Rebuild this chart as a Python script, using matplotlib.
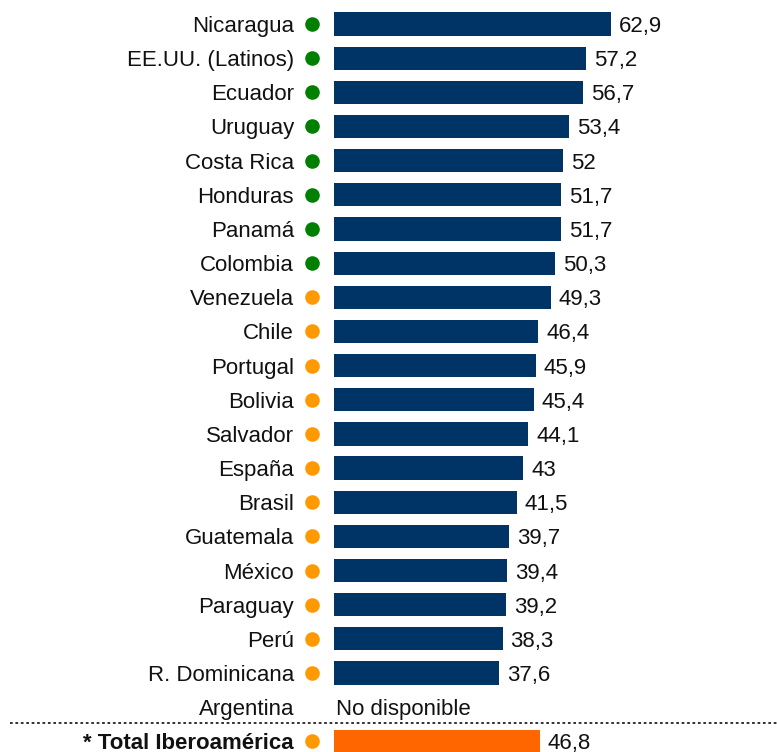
import matplotlib
matplotlib.use("Agg")
import matplotlib.pyplot as plt
from matplotlib.lines import Line2D

countries = ["Nicaragua", "EE.UU. (Latinos)", "Ecuador", "Uruguay", "Costa Rica",
             "Honduras", "Panamá", "Colombia", "Venezuela", "Chile", "Portugal",
             "Bolivia", "Salvador", "España", "Brasil", "Guatemala", "México",
             "Paraguay", "Perú", "R. Dominicana"]
values = [62.9, 57.2, 56.7, 53.4, 52, 51.7, 51.7, 50.3, 49.3, 46.4, 45.9,
          45.4, 44.1, 43, 41.5, 39.7, 39.4, 39.2, 38.3, 37.6]
dot_group = ["g"] * 8 + ["o"] * 12
missing_label = "Argentina"
missing_text = "No disponible"
total_label = "* Total Iberoamérica"
total_value = 46.8

NAVY = "#003366"
ORANGE_BAR = "#FF6600"
GREEN_DOT = "#008000"
ORANGE_DOT = "#FF9900"

plt.rcParams["font.family"] = ["Liberation Sans", "DejaVu Sans"]
FS = 16
TXT = "#111111"
BASE = -8  # pixel offset from row centre to baseline

W, H = 777, 752
fig = plt.figure(figsize=(W / 100, H / 100), dpi=100)
x0 = 334
ppu = 4.4
ax = fig.add_axes([x0 / W, 0, (W - x0) / W, 1])
ax.set_xlim(0, (W - x0) / ppu)
row0, step = 24, 34.16
ax.set_ylim((H - row0) / step, -row0 / step)
ax.axis("off")

def fmt(v):
    return f"{v:g}".replace(".", ",")

def label(text, y, dx, ha, x=0, **kw):
    ax.annotate(text, xy=(x, y), xytext=(dx, BASE), textcoords="offset pixels",
                ha=ha, va="baseline", fontsize=FS, color=TXT, annotation_clip=False, **kw)

ys = list(range(len(countries)))
ax.barh(ys, values, height=0.68, color=NAVY, left=0)
for y, v, lab, g in zip(ys, values, countries, dot_group):
    label(fmt(v), y, 8, "left", x=v)
    label(lab, y, -40, "right")
    ax.plot([-22 / ppu], [y], marker="o", markersize=10.5,
            color=GREEN_DOT if g == "g" else ORANGE_DOT, clip_on=False, markeredgewidth=0)

ym = len(countries)
label(missing_label, ym, -40, "right")
label(missing_text, ym, 2, "left")

yt = ym + 1
ax.barh([yt], [total_value], height=0.68, color=ORANGE_BAR, left=0)
label(fmt(total_value), yt, 8, "left", x=total_value)
label(total_label, yt, -40, "right", fontweight="bold")
ax.plot([-22 / ppu], [yt], marker="o", markersize=10.5, color=ORANGE_DOT, clip_on=False,
        markeredgewidth=0)

fig.add_artist(Line2D([10 / W, 1], [1 - 723 / H, 1 - 723 / H], color="#222222",
                      linestyle=(0, (1.5, 1.5)), linewidth=1.3, transform=fig.transFigure))

fig.savefig("out.png", dpi=100)
